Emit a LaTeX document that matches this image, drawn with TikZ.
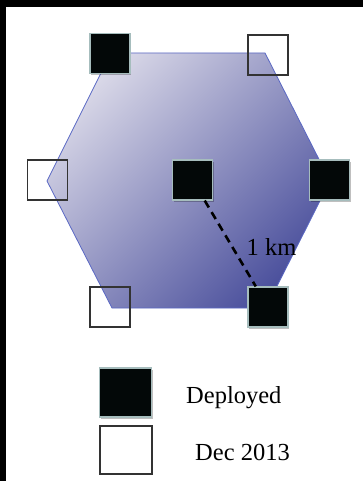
\documentclass[tikz,border=0pt]{standalone}
\usepackage{fontspec}
\setmainfont{Liberation Serif}
\usetikzlibrary{shadows}
\definecolor{hexlight}{HTML}{D8D7E7}
\definecolor{hexdark}{HTML}{4C519D}
\definecolor{hexedge}{HTML}{5A68C4}
\definecolor{boxblack}{HTML}{030808}
\definecolor{boxrim}{HTML}{A6BDBD}
\tikzset{
  blackbox/.style={draw=boxrim, fill=boxblack, line width=1.1pt, inner sep=0pt,
    minimum width=40pt, minimum height=40pt,
    drop shadow={shadow xshift=1pt, shadow yshift=-1.5pt, opacity=0.25, fill=black}},
  whitebox/.style={draw=black!80, line width=1.1pt, inner sep=0pt,
    minimum width=40pt, minimum height=40pt},
  label/.style={inner sep=0pt, font=\fontsize{24.5}{28}\selectfont}
}
\begin{document}
\begin{tikzpicture}[x=1pt,y=-1pt]
\useasboundingbox (0,0) rectangle (363,481);
\fill[white] (0,0) rectangle (363,481);
\fill[black] (0,0) rectangle (363,7);
\fill[black] (0,0) rectangle (6,481);
% hexagon
\shade[top color=hexlight, bottom color=hexdark, shading angle=45]
  (111,53) -- (265,53) -- (330,181) -- (266,308) -- (112,308) -- (47,181) -- cycle;
\draw[hexedge, line width=0.8pt]
  (111,53) -- (265,53) -- (330,181) -- (266,308) -- (112,308) -- (47,181) -- cycle;
% stations
\node[blackbox] (nA) at (110,53.5) {};
\node[whitebox] (nB) at (268,55) {};
\node[whitebox] (nC) at (47.5,180) {};
\node[blackbox] (nD) at (192.5,180) {};
\node[blackbox] (nE) at (329.5,180) {};
\node[whitebox] (nF) at (110,307) {};
\node[blackbox] (nG) at (268,307) {};
% distance
\draw[black, line width=2.6pt, dash pattern=on 8pt off 5.5pt] (nD) -- (nG);
\node[label, anchor=base west] (km) at (246.5,255) {1 km};
% legend
\node[blackbox, minimum width=52pt, minimum height=49pt] (legA) at (125.5,392.5) {};
\node[whitebox, minimum width=52pt, minimum height=48pt] (legB) at (126,450) {};
\node[label, anchor=base west] (tA) at (186,403) {Deployed};
\node[label, anchor=base west] (tB) at (195,460) {Dec 2013};
\end{tikzpicture}
\end{document}
